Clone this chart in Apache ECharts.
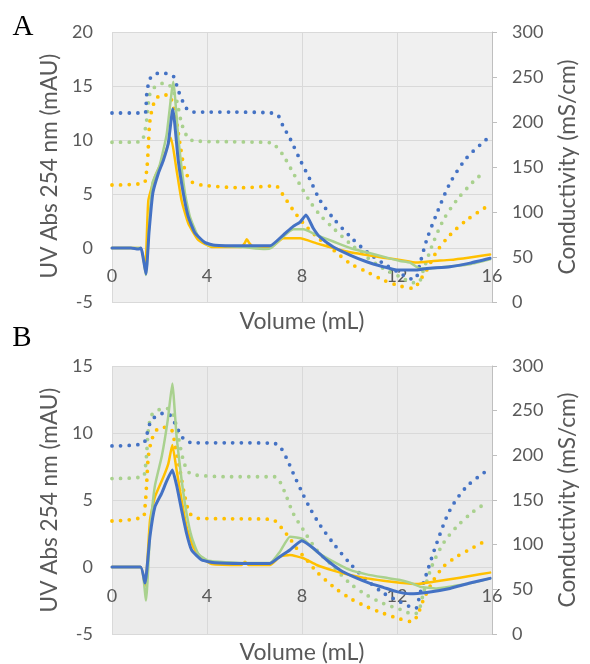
<!DOCTYPE html>
<html>
<head>
<meta charset="utf-8">
<script src="https://cdn.jsdelivr.net/npm/echarts@6/dist/echarts.min.js"></script>
<style>
html,body{margin:0;padding:0;background:#fff;}
#c{width:590px;height:664px;}
</style>
</head>
<body>
<div id="c"></div>
<script>
// ---------- Axis ticks ----------
const xTicks = [0, 4, 8, 12, 16];
const uvTicksA = [-5, 0, 5, 10, 15, 20];
const uvTicksB = [-5, 0, 5, 10, 15];
const condTicks = [0, 50, 100, 150, 200, 250, 300];

// ---------- Texts ----------
const panelLetters = ['A', 'B'];
const uvTitle = 'UV Abs 254 nm (mAU)';
const condTitle = 'Conductivity (mS/cm)';
const volTitle = 'Volume (mL)';

// ---------- Panel A : UV absorbance (mAU) ----------
const aBlueUvVol = [0, 0.8, 1.1, 1.22, 1.43, 1.56, 1.72, 1.95, 2.16, 2.37, 2.56, 2.79, 3.0, 3.21, 3.49, 3.92, 4.34, 5.5, 6.65, 7.21, 7.63, 7.92, 8.17, 8.48, 8.76, 9.32, 10.02, 10.72, 11.42, 11.99, 12.83, 13.25, 14.23, 15.07, 15.92];
const aBlueUv    = [0, 0, -0.1, 0, -2.4, 1.5, 5.1, 6.9, 8.1, 9.7, 12.9, 8.1, 5.1, 2.9, 1.4, 0.5, 0.25, 0.2, 0.2, 1.2, 2.0, 2.4, 3.05, 1.8, 1.0, 0.1, -0.65, -1.27, -1.73, -2.04, -2.04, -1.9, -1.73, -1.4, -0.95];

const aGreenUvVol = [0, 1.2, 1.43, 1.55, 1.7, 2.0, 2.3, 2.58, 2.8, 3.07, 3.28, 3.63, 4.05, 5.5, 6.44, 6.7, 7.21, 7.63, 8.06, 8.62, 9.32, 10.02, 10.72, 11.42, 12.13, 12.55, 12.97, 13.39, 14.23, 15.07, 15.92];
const aGreenUv    = [0, 0, -2.5, 1.5, 6.0, 7.6, 10.5, 15.4, 10.0, 5.1, 2.9, 1.05, 0.3, 0.1, -0.1, 0, 1.05, 1.73, 1.73, 1.2, 0.6, 0, -0.4, -0.8, -1.2, -1.35, -1.9, -1.9, -1.7, -1.5, -1.05];

const aYellowUvVol = [0, 1.2, 1.4, 1.53, 1.81, 2.16, 2.48, 2.72, 2.93, 3.21, 3.63, 4.2, 5.45, 5.6, 5.67, 5.8, 5.95, 6.7, 7.21, 7.92, 8.62, 9.32, 10.02, 10.72, 11.42, 12.13, 12.83, 13.53, 14.23, 15.07, 15.92];
const aYellowUv    = [0, 0, -2.0, 4.4, 6.6, 8.3, 10.2, 7.2, 4.4, 2.3, 0.75, 0.1, 0.1, 0.5, 0.8, 0.4, 0.1, 0.1, 0.9, 0.9, 0.43, 0, -0.4, -0.65, -0.9, -1.1, -1.35, -1.2, -1.1, -0.87, -0.6];

// ---------- Panel A : conductivity (mS/cm) ----------
const aBlueCondVol = [0, 1.39, 1.46, 1.6, 1.88, 2.23, 2.58, 2.79, 3.14, 3.42, 5.0, 6.72, 7.0, 7.21, 7.49, 7.92, 8.34, 8.76, 9.32, 10.02, 10.72, 11.42, 12.13, 12.55, 12.76, 12.97, 13.25, 13.67, 14.23, 14.93, 15.78];
const aBlueCond    = [210, 210, 230, 248, 254, 254, 251, 235, 215, 211, 211, 210, 207, 195, 182, 158, 136, 113, 93, 73, 56, 43, 32, 26, 25.5, 43, 69, 98, 132, 160, 181];

const aGreenCondVol = [0, 1.2, 1.39, 1.46, 1.6, 1.81, 2.16, 2.45, 2.72, 2.93, 3.21, 3.49, 5.0, 6.7, 6.86, 7.21, 7.56, 7.92, 8.34, 8.76, 9.32, 10.02, 10.72, 11.42, 12.13, 12.69, 12.9, 13.11, 13.46, 13.95, 14.51, 15.21, 15.7];
const aGreenCond    = [177.5, 178, 191, 202, 232, 239, 243, 240, 224, 198.5, 182, 179, 178, 177, 174.4, 163, 146.7, 130, 111.5, 96.7, 82, 65, 50, 37.4, 28, 21.5, 21.5, 35.5, 61.5, 91, 113, 133.7, 145];

const aYellowCondVol = [0, 1.32, 1.46, 1.53, 1.6, 1.81, 2.09, 2.37, 2.65, 2.86, 3.07, 3.35, 3.78, 5.5, 6.9, 7.07, 7.35, 7.63, 8.06, 8.62, 9.32, 10.02, 10.72, 11.42, 12.13, 12.69, 12.97, 13.25, 13.67, 14.23, 14.93, 15.78];
const aYellowCond    = [130, 132, 146.7, 172.6, 202, 224, 230, 230, 209.6, 176, 146.7, 133.7, 130, 127, 129, 124, 113, 102, 87.4, 72.6, 57.8, 43, 33.7, 24.4, 17.8, 15.2, 24.4, 35.5, 56, 74.4, 91, 106];

// ---------- Panel B : UV absorbance (mAU) ----------
const bBlueUvVol = [0, 1.2, 1.39, 1.6, 1.81, 2.09, 2.3, 2.54, 2.72, 2.93, 3.14, 3.35, 3.78, 4.34, 5.5, 6.65, 7.07, 7.49, 7.99, 8.48, 9.04, 9.6, 10.16, 10.86, 11.42, 11.99, 12.55, 13.25, 14.23, 15.07, 15.92];
const bBlueUv    = [0, 0, -1.2, 2.3, 4.5, 5.5, 6.4, 7.24, 6.1, 4.25, 2.5, 1.27, 0.52, 0.32, 0.27, 0.27, 0.77, 1.27, 1.96, 1.4, 0.52, -0.22, -0.72, -1.22, -1.52, -1.84, -2.0, -1.9, -1.6, -1.2, -0.85];

const bGreenUvVol = [0, 1.2, 1.43, 1.6, 1.8, 2.1, 2.35, 2.54, 2.72, 2.93, 3.14, 3.35, 3.63, 4.05, 5.5, 6.65, 7.07, 7.49, 7.77, 8.06, 8.62, 9.32, 10.02, 10.72, 11.42, 12.13, 12.55, 12.97, 13.67, 14.23, 15.07, 15.92];
const bGreenUv    = [0, 0, -2.5, 2.5, 6.0, 8.3, 11.0, 13.7, 9.7, 6.5, 4.0, 2.26, 1.0, 0.47, 0.3, 0.3, 1.14, 2.26, 2.2, 2.07, 1.14, 0.4, -0.22, -0.55, -0.77, -0.97, -1.17, -1.47, -1.6, -1.47, -1.22, -0.85];

const bYellowUvVol = [0, 1.2, 1.4, 1.6, 1.81, 2.16, 2.37, 2.54, 2.72, 2.93, 3.14, 3.42, 3.78, 4.2, 5.45, 5.6, 5.75, 6.65, 7.07, 7.49, 8.06, 8.62, 9.32, 10.02, 10.72, 11.42, 12.13, 12.83, 13.53, 14.23, 15.07, 15.92];
const bYellowUv    = [0, 0, -1.4, 3.5, 5.25, 6.7, 7.7, 9.1, 7.24, 5.0, 3.0, 1.5, 0.65, 0.22, 0.15, 0.4, 0.15, 0.15, 0.77, 0.9, 0.65, 0.15, -0.27, -0.6, -0.85, -1.02, -1.17, -1.27, -1.1, -0.92, -0.67, -0.42];

// ---------- Panel B : conductivity (mS/cm) ----------
const bBlueCondVol = [0, 1.3, 1.46, 1.6, 1.81, 2.16, 2.44, 2.65, 2.86, 3.07, 3.42, 5.0, 6.8, 7.07, 7.35, 7.63, 7.99, 8.34, 8.76, 9.32, 10.02, 10.72, 11.42, 12.13, 12.55, 12.79, 12.97, 13.25, 13.67, 14.23, 14.93, 15.78];
const bBlueCond    = [210.5, 213, 222.8, 235.8, 243, 247, 245, 236, 224.7, 217, 214, 214, 213.5, 209.7, 196.7, 180, 159.3, 140.7, 122, 101.5, 79, 60.5, 46, 36, 30.6, 28.7, 45.5, 68, 101.5, 138.8, 165, 182.8];

const bGreenCondVol = [0, 1.3, 1.39, 1.46, 1.53, 1.67, 1.95, 2.3, 2.58, 2.79, 3.0, 3.21, 3.49, 5.0, 6.85, 7.07, 7.35, 7.63, 8.06, 8.62, 9.32, 10.02, 10.72, 11.42, 12.13, 12.69, 12.9, 13.11, 13.46, 13.95, 14.51, 15.21, 15.78];
const bGreenCond    = [174, 176, 183.6, 202, 228, 245, 250.7, 252.6, 245, 220.9, 194.8, 181.7, 178, 176, 176, 170.5, 153.7, 135, 116.4, 94, 75.3, 56.7, 43.7, 34.3, 27.6, 22.4, 25, 45.5, 75.3, 101.5, 120, 137, 147];

const bYellowCondVol = [0, 1.3, 1.39, 1.46, 1.53, 1.67, 1.88, 2.16, 2.51, 2.65, 2.86, 3.07, 3.28, 3.63, 5.0, 6.7, 6.91, 7.21, 7.49, 7.77, 8.2, 8.62, 9.32, 10.02, 10.72, 11.42, 12.13, 12.62, 12.83, 13.11, 13.46, 13.95, 14.51, 15.07, 15.64];
const bYellowCond    = [126.5, 131, 142.5, 168.7, 198.5, 217, 228.4, 231.4, 228.4, 211.6, 183.6, 153.7, 135, 129.5, 129, 128.4, 125.7, 116.4, 107, 96, 82.8, 69.7, 53, 40, 30.6, 23.2, 16.8, 13.8, 19.4, 38, 56.7, 75.3, 86.5, 94.8, 103];

// ---------- Styling ----------
const BLUE = '#4472c4', GREEN = '#a9d18e', YELLOW = '#ffc000';
const FONT = 'Lato, "Open Sans", sans-serif';
const LABEL = '#595959';
const GRIDC = '#d9d9d9';
const TICKSIZE = 18;

function fitSize(text, family, targetPx) {
  const ctx = document.createElement('canvas').getContext('2d');
  ctx.font = '100px ' + family;
  return 100 * targetPx / ctx.measureText(text).width;
}
const uvSize = fitSize(uvTitle, FONT, 225);
const condSize = fitSize(condTitle, FONT, 215);
const volSize = fitSize(volTitle, FONT, 125);

function pairs(xs, ys) { return xs.map((x, i) => [x, ys[i]]); }

function solid(name, xs, ys, color, w, idx) {
  return { name, type: 'line', xAxisIndex: idx, yAxisIndex: idx * 2,
    data: pairs(xs, ys), showSymbol: false, smooth: 0.15, z: 3,
    lineStyle: { color, width: w, cap: 'round', join: 'round' } };
}
function dotted(name, xs, ys, color, idx) {
  return { name, type: 'line', xAxisIndex: idx, yAxisIndex: idx * 2 + 1,
    data: pairs(xs, ys), showSymbol: false, smooth: 0.3, z: 2,
    lineStyle: { color, width: 3.8, type: [0, 8.6], cap: 'round' } };
}

const grids = [
  { left: 112, top: 32, width: 380, height: 270, show: true, backgroundColor: '#f0f0f0', borderWidth: 0 },
  { left: 112, top: 366, width: 380, height: 268, show: true, backgroundColor: '#ebebeb', borderWidth: 0 }
];

function xAx(idx, labelMargin) {
  return { type: 'value', gridIndex: idx, min: xTicks[0], max: xTicks[xTicks.length - 1], interval: xTicks[1] - xTicks[0],
    axisLine: { show: false, onZero: false },
    axisTick: { show: false },
    axisLabel: { color: LABEL, fontSize: TICKSIZE, fontFamily: FONT, margin: labelMargin },
    splitLine: { show: true, lineStyle: { color: GRIDC, width: 1 } } };
}
function yLeft(idx, ticks) {
  return { type: 'value', gridIndex: idx, position: 'left', min: ticks[0], max: ticks[ticks.length - 1], interval: ticks[1] - ticks[0],
    axisLine: { show: false }, axisTick: { show: false },
    axisLabel: { color: LABEL, fontSize: TICKSIZE, fontFamily: FONT, margin: 19 },
    splitLine: { show: true, lineStyle: { color: GRIDC, width: 1 } } };
}
function yRight(idx) {
  return { type: 'value', gridIndex: idx, position: 'right', min: condTicks[0], max: condTicks[condTicks.length - 1], interval: condTicks[1] - condTicks[0],
    axisLine: { show: true, lineStyle: { color: '#bfbfbf', width: 1 } },
    axisTick: { show: true, length: 5, lineStyle: { color: '#bfbfbf' } },
    axisLabel: { color: LABEL, fontSize: TICKSIZE, fontFamily: FONT, margin: 20 },
    splitLine: { show: false } };
}

function txt(x, y, s, size, rot, family, color) {
  return { type: 'text', x, y, rotation: rot || 0,
    style: { text: s, fontSize: size, fontFamily: family || FONT, fill: color || LABEL, align: 'center', verticalAlign: 'middle' } };
}

const SERIF = '"Liberation Serif", "DejaVu Serif", serif';
const option = {
  animation: false,
  backgroundColor: '#ffffff',
  grid: grids,
  xAxis: [xAx(0, -35), xAx(1, -47)],
  yAxis: [yLeft(0, uvTicksA), yRight(0), yLeft(1, uvTicksB), yRight(1)],
  series: [
    dotted('A yellow cond', aYellowCondVol, aYellowCond, YELLOW, 0),
    dotted('A green cond', aGreenCondVol, aGreenCond, GREEN, 0),
    dotted('A blue cond', aBlueCondVol, aBlueCond, BLUE, 0),
    solid('A yellow UV', aYellowUvVol, aYellowUv, YELLOW, 2.5, 0),
    solid('A green UV', aGreenUvVol, aGreenUv, GREEN, 2.5, 0),
    solid('A blue UV', aBlueUvVol, aBlueUv, BLUE, 3, 0),
    dotted('B yellow cond', bYellowCondVol, bYellowCond, YELLOW, 1),
    dotted('B green cond', bGreenCondVol, bGreenCond, GREEN, 1),
    dotted('B blue cond', bBlueCondVol, bBlueCond, BLUE, 1),
    solid('B yellow UV', bYellowUvVol, bYellowUv, YELLOW, 2.5, 1),
    solid('B green UV', bGreenUvVol, bGreenUv, GREEN, 2.5, 1),
    solid('B blue UV', bBlueUvVol, bBlueUv, BLUE, 3, 1)
  ],
  graphic: [
    txt(23, 27, panelLetters[0], 29, 0, SERIF, '#000'),
    txt(22, 338, panelLetters[1], 29, 0, SERIF, '#000'),
    txt(50, 166, uvTitle, uvSize, Math.PI / 2),
    txt(568, 167, condTitle, condSize, Math.PI / 2),
    txt(302, 322, volTitle, volSize, 0),
    txt(50, 500, uvTitle, uvSize, Math.PI / 2),
    txt(568, 500, condTitle, condSize, Math.PI / 2),
    txt(302, 653, volTitle, volSize, 0)
  ]
};

const chart = echarts.init(document.getElementById('c'), null, { renderer: 'canvas' });
chart.setOption(option);
</script>
</body>
</html>
